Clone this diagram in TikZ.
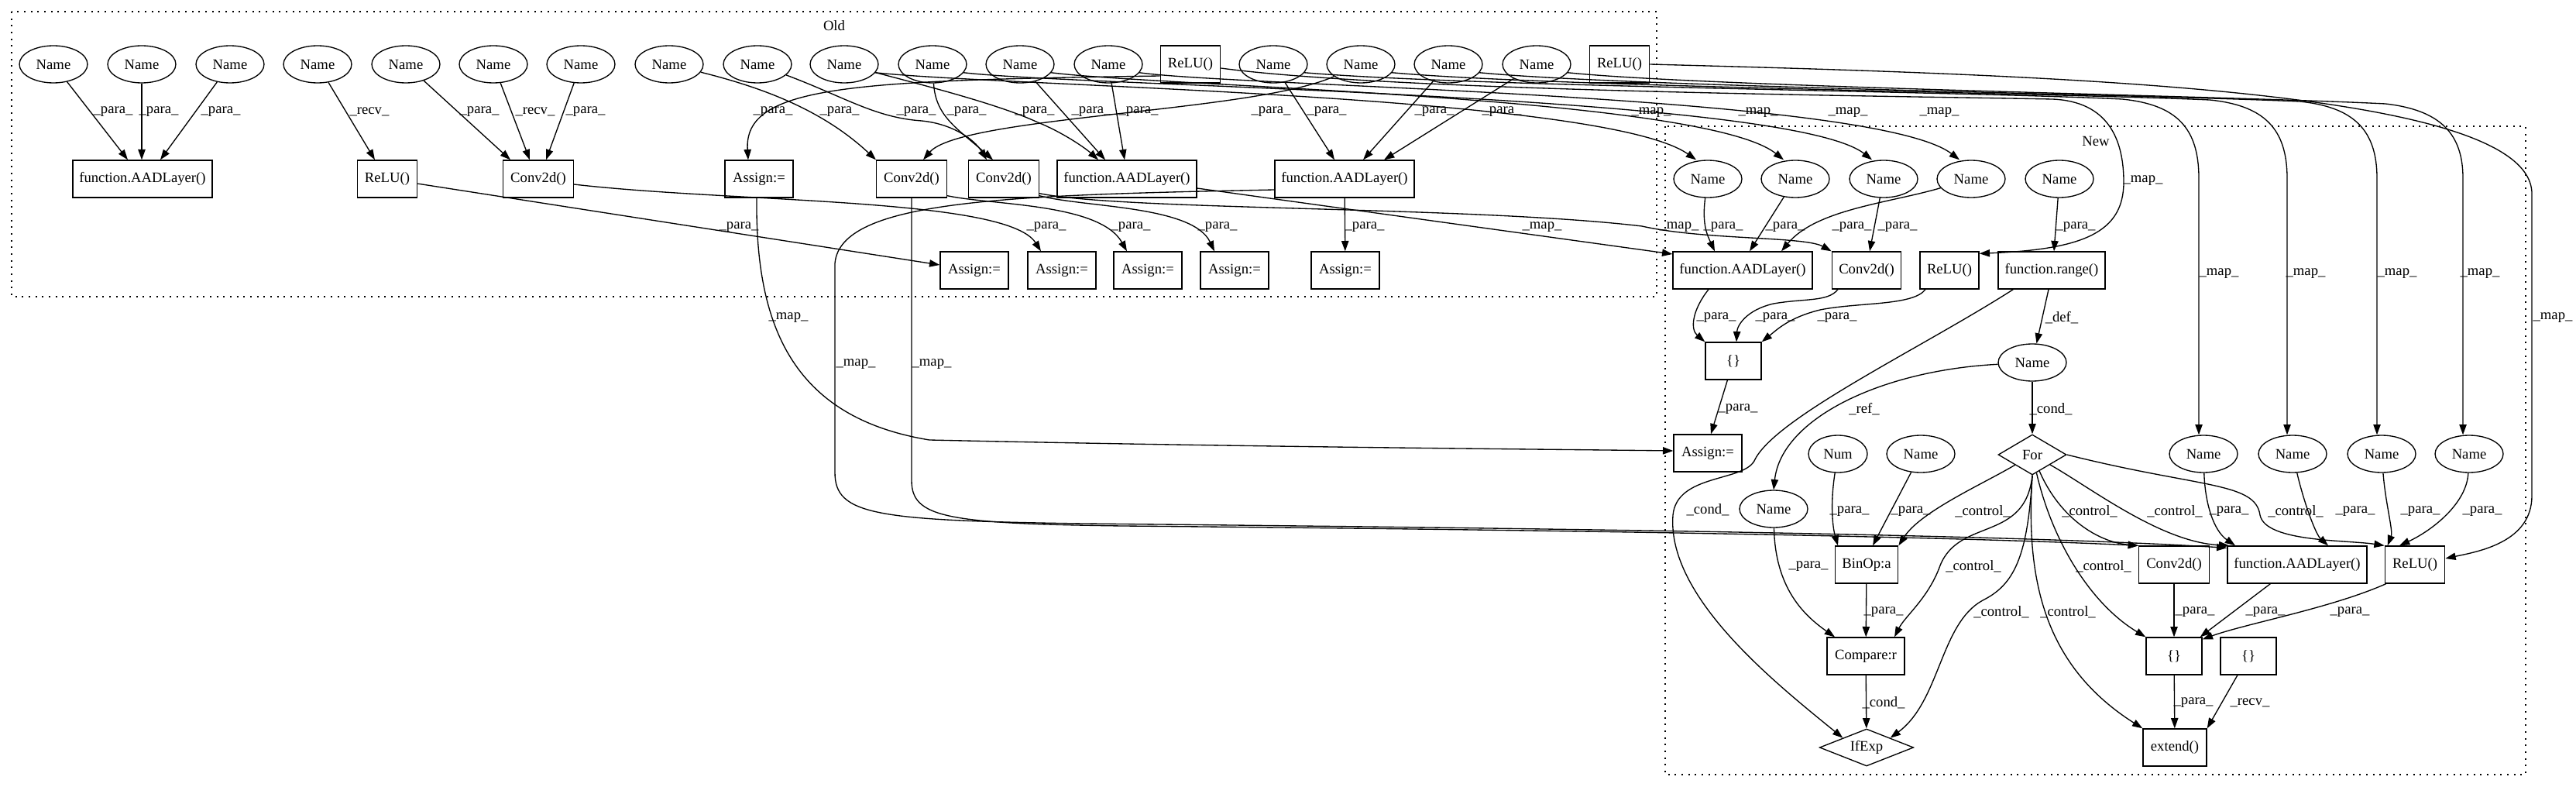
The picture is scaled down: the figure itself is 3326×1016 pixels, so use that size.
\documentclass[tikz,border=0pt]{standalone}
\usepackage{fontspec}
\setmainfont{Liberation Serif}
\usetikzlibrary{arrows.meta,shapes.geometric,calc}
\begin{document}
\begin{tikzpicture}[x=0.75pt,y=-0.75pt,
  every node/.style={font=\fontsize{14pt}{16pt}\selectfont},
  nm/.style={draw,ellipse,line width=1pt,minimum width=66pt,minimum height=36pt,inner sep=0pt},
  bx/.style={draw,rectangle,line width=1pt,minimum height=36pt,inner sep=0pt},
  dm/.style={draw,diamond,line width=1pt,inner sep=0pt},
  e/.style={draw,line width=1pt,-{Triangle[length=10pt,width=7pt]}},
  lab/.style={inner sep=0pt},
  cl/.style={draw,line width=1pt,dash pattern=on 1.5pt off 5pt}
]
\useasboundingbox (0,0) rectangle (3326,1016);
% clusters
\draw[cl] (15,15) rectangle (2139,383);
\node (OldLbl) at (1077,33) {Old};
\draw[cl] (2150,163) rectangle (3261,1000);
\node (NewLbl) at (2706,182) {New};
% ---------- Old nodes
\node[nm] (N1) at (69,83) {Name};
\node[nm] (N2) at (183,83) {Name};
\node[nm] (N3) at (297,83) {Name};
\node[nm] (N4) at (410,83) {Name};
\node[nm] (N5) at (524,83) {Name};
\node[nm] (N6) at (637,83) {Name};
\node[nm] (N7) at (750,83) {Name};
\node[nm] (N8) at (864,83) {Name};
\node[nm] (N9) at (978,83) {Name};
\node[nm] (N10) at (1090,83) {Name};
\node[nm] (N11) at (1204,83) {Name};
\node[nm] (N12) at (1317,83) {Name};
\node[nm] (N13) at (1431,83) {Name};
\node[bx,minimum width=58pt] (ReLUa) at (1537,83) {ReLU()};
\node[nm] (N14) at (1644,83) {Name};
\node[nm] (N15) at (1757,83) {Name};
\node[nm] (N16) at (1870,83) {Name};
\node[nm] (N17) at (1984,83) {Name};
\node[bx,minimum width=58pt] (ReLUb) at (2091,83) {ReLU()};
\node[bx,minimum width=135pt] (AADo1) at (184,231) {function.AADLayer()};
\node[bx,minimum width=58pt] (ReLUo1) at (500,231) {ReLU()};
\node[bx,minimum width=68pt] (Convo1) at (695,231) {Conv2d()};
\node[bx,minimum width=66pt] (Assigno1) at (980,231) {Assign:=};
\node[bx,minimum width=68pt] (Convo2) at (1177,231) {Conv2d()};
\node[bx,minimum width=68pt] (Convo3) at (1296,231) {Conv2d()};
\node[bx,minimum width=135pt] (AADo2) at (1455,231) {function.AADLayer()};
\node[bx,minimum width=135pt] (AADo3) at (1736,231) {function.AADLayer()};
\node[bx,minimum width=66pt] (Assigno2) at (1258,349) {Assign:=};
\node[bx,minimum width=66pt] (Assigno3) at (1371,349) {Assign:=};
\node[bx,minimum width=66pt] (Assigno4) at (1482,349) {Assign:=};
\node[bx,minimum width=66pt] (Assigno5) at (1594,349) {Assign:=};
\node[bx,minimum width=66pt] (Assigno6) at (1737,349) {Assign:=};
% ---------- New nodes
\node[nm] (NN1) at (2205,231) {Name};
\node[nm] (NN2) at (2318,231) {Name};
\node[nm] (NN3) at (2432,231) {Name};
\node[nm] (NN4) at (2545,231) {Name};
\node[nm] (NN5) at (2659,231) {Name};
\node[bx,minimum width=135pt] (AADn1) at (2250,349) {function.AADLayer()};
\node[bx,minimum width=67pt] (Convn1) at (2410,349) {Conv2d()};
\node[bx,minimum width=57pt] (ReLUn1) at (2517,349) {ReLU()};
\node[bx,minimum width=103.5pt] (Range) at (2649,349) {function.range()};
\node[bx,minimum width=54pt] (NBr1) at (2238,466) {\{\}};
\node[nm] (NameI) at (2624,468) {Name};
\node[bx,minimum width=66pt] (Assignn) at (2205,585) {Assign:=};
\node[nm,minimum width=57pt] (Num) at (2373,586) {Num};
\node[nm] (NameB) at (2480,586) {Name};
\node[dm,shape aspect=1.7,minimum width=66pt,minimum height=39pt] (For) at (2624,587) {For};
\node[nm] (NR1) at (2845,586) {Name};
\node[nm] (NR2) at (2960,586) {Name};
\node[nm] (NR3) at (3075,586) {Name};
\node[nm] (NR4) at (3188,586) {Name};
\node[nm] (NameRef) at (2290,657) {Name};
\node[bx,minimum width=61pt] (BinOp) at (2410,729) {BinOp:a};
\node[bx,minimum width=68pt] (Convn2) at (2807,729) {Conv2d()};
\node[bx,minimum width=135pt] (AADn2) at (2966,729) {function.AADLayer()};
\node[bx,minimum width=58pt] (ReLUn2) at (3118,729) {ReLU()};
\node[bx,minimum width=75pt] (Compare) at (2409,847) {Compare:r};
\node[bx,minimum width=54pt] (NBr2) at (2807,847) {\{\}};
\node[bx,minimum width=54pt] (NBr3) at (2903,847) {\{\}};
\node[dm,shape aspect=2.5,minimum width=91pt,minimum height=36pt] (IfExp) at (2410,965) {IfExp};
\node[bx,minimum width=61.5pt] (Extend) at (2808,965) {extend()};
% ---------- Old edges, top row
\draw[e] (N1) -- ($(AADo1.north)+(-19,0)$) node[lab] at (146,144) {\_para\_};
\draw[e] (N2) -- (N2 |- AADo1.north) node[lab] at (205,144) {\_para\_};
\draw[e] (N3) -- ($(AADo1.north)+(23,0)$) node[lab] at (285,144) {\_para\_};
\draw[e] (N4) -- ($(ReLUo1.north)+(-16,0)$) node[lab] at (477,144) {\_recv\_};
\draw[e] (N5) -- ($(Convo1.north)+(-36,0)$) node[lab] at (619,144) {\_para\_};
\draw[e] (N6) -- ($(Convo1.north)+(-11,0)$) node[lab] at (691,144) {\_recv\_};
\draw[e] (N7) -- ($(Convo1.north)+(10,0)$) node[lab] at (756,144) {\_para\_};
\draw[e] ($(ReLUa.west)+(0,15)$) .. controls (1100,104) and (960,110) .. ($(Assigno1.north)+(-14,0)$) node[lab] at (998,144) {\_para\_};
\draw[e] (N8) .. controls (980,112) and (1060,140) .. (Convo2.north west) node[lab] at (1084,144) {\_para\_};
\draw[e] (N9) .. controls (1090,125) and (1130,152) .. (1190,156) .. controls (1230,160) and (1258,180) .. ($(Convo3.north)+(-22,0)$) node[lab] at (1183,144) {\_para\_};
\draw[e] (N11) .. controls (1208,150) and (1235,165) .. ($(Convo3.north)+(-14,0)$) node[lab] at (1248,144) {\_para\_};
\draw[e] (N10) .. controls (1200,112) and (1290,135) .. (1340,158) .. controls (1370,170) and (1400,190) .. ($(AADo2.north)+(-37,0)$) node[lab] at (1336,144) {\_para\_};
\draw[e] (N12) -- ($(AADo2.north)+(-28,0)$) node[lab] at (1409,144) {\_para\_};
\draw[e] (N13) -- ($(AADo2.north)+(-3,0)$) node[lab] at (1470,144) {\_para\_};
\draw[e] (N15) .. controls (1620,145) and (1240,150) .. ($(Convo2.north)+(15,0)$) node[lab] at (1641,144) {\_para\_};
\draw[e] (N14) -- ($(AADo3.north)+(-13,0)$) node[lab] at (1713,144) {\_para\_};
\draw[e] (N16) -- ($(AADo3.north)+(24,0)$) node[lab] at (1852,144) {\_para\_};
\draw[e] (N17) -- ($(AADo3.north)+(51,0)$) node[lab] at (1939,144) {\_para\_};
% ---------- Old edges, second row
\draw[e] (ReLUo1) -- ($(Assigno2.west)+(0,-7)$) node[lab] at (954,293) {\_para\_};
\draw[e] ($(Convo1.east)+(0,7)$) .. controls (950,262) and (1300,255) .. ($(Assigno3.north)+(-27,0)$) node[lab] at (1351,293) {\_para\_};
\draw[e] ($(Convo2.south east)+(0,-3)$) .. controls (1280,265) and (1420,262) .. ($(Assigno4.north)+(-27,0)$) node[lab] at (1460,293) {\_para\_};
\draw[e] ($(Convo3.south east)+(0,-3)$) .. controls (1400,268) and (1540,265) .. ($(Assigno5.north)+(-26,0)$) node[lab] at (1572,293) {\_para\_};
\draw[e] (AADo3) -- (Assigno6) node[lab] at (1762,293) {\_para\_};
% ---------- map edges Old -> New
\draw[e] ($(AADo2.east)+(0,12)$) -- ($(AADn1.west)+(0,-21)$) node[lab] at (1991,293) {\_map\_};
\draw[e] ($(Convo3.south east)+(0,-6)$) .. controls (1450,272) and (1900,266) .. (2120,292) .. controls (2200,310) and (2330,305) .. (Convn1.north west) node[lab] at (2168,293) {\_map\_};
\draw[e] ($(Assigno1.south)+(-3,0)$) .. controls (975,430) and (1030,540) .. (1200,568) .. controls (1600,577) and (2000,580) .. ($(Assignn.west)+(0,-3)$) node[lab] at (1018,410) {\_map\_};
\draw[e] ($(AADo3.west)+(0,14)$) .. controls (1300,252) and (1085,258) .. (1078,340) -- (1078,610) .. controls (1078,665) and (1130,672) .. (1400,676) .. controls (2000,682) and (2600,690) .. ($(AADn2.north west)+(0,3)$) node[lab] at (1105,470) {\_map\_};
\draw[e] (Convo2.south) -- (1177,620) .. controls (1177,668) and (1220,676) .. (1450,679) .. controls (2000,684) and (2500,692) .. (Convn2.north west) node[lab] at (1203,470) {\_map\_};
% bundle
\draw[e] (N10.-15) .. controls (1300,112) and (2070,122) .. ($(NN1.north)+(-15,0)$) node[lab] at (2132,145) {\_map\_};
\draw[e] (N12.-15) .. controls (1500,112) and (2200,124) .. ($(NN2.north)+(-15,0)$) node[lab] at (2270,145) {\_map\_};
\draw[e] (N11.-15) .. controls (1400,112) and (2310,122) .. ($(NN3.north)+(-15,0)$) node[lab] at (2386,145) {\_map\_};
\draw[e] (N13.-15) .. controls (1600,112) and (2420,122) .. ($(NN4.north)+(-15,0)$) node[lab] at (2504,145) {\_map\_};
\draw[e] ($(ReLUa.east)+(0,5)$) .. controls (1800,118) and (2450,124) .. (2650,128) .. controls (2722,131) and (2742,180) .. (2742,235) .. controls (2742,300) and (2690,322) .. ($(ReLUn1.north east)+(0,3)$) node[lab] at (2767,233) {\_map\_};
\draw[e] (N14.-15) .. controls (1900,112) and (2540,118) .. (2740,128) .. controls (2810,135) and (2839,165) .. (2839,230) -- ($(NR1.north)+(-6,0)$) node[lab] at (2865,353) {\_map\_};
\draw[e] (N15.-15) .. controls (2000,112) and (2650,120) .. (2853,129) .. controls (2923,136) and (2953,166) .. (2953,230) -- ($(NR2.north)+(-7,0)$) node[lab] at (2977,353) {\_map\_};
\draw[e] (N16.-15) .. controls (2100,112) and (2770,122) .. (2969,131) .. controls (3039,138) and (3069,168) .. (3069,230) -- ($(NR3.north)+(-6,0)$) node[lab] at (3095,353) {\_map\_};
\draw[e] (N17.-15) .. controls (2200,112) and (2880,124) .. (3080,134) .. controls (3150,142) and (3180,172) .. (3180,230) -- ($(NR4.north)+(-8,0)$) node[lab] at (3202,353) {\_map\_};
\draw[e] (ReLUb.east) .. controls (2700,98) and (3268,118) .. (3269,250) -- (3269,640) .. controls (3269,700) and (3200,712) .. ($(ReLUn2.east)+(0,-8)$) node[lab] at (3296,410) {\_map\_};
% ---------- New edges
\draw[e] (NN1) .. controls (2197,290) and (2205,305) .. ($(AADn1.north)+(-36,0)$) node[lab] at (2225,293) {\_para\_};
\draw[e] (NN2) -- ($(AADn1.north)+(9,0)$) node[lab] at (2305,293) {\_para\_};
\draw[e] (NN4) .. controls (2440,262) and (2345,270) .. ($(AADn1.north)+(50,0)$) node[lab] at (2391,293) {\_para\_};
\draw[e] (NN3) -- ($(Convn1.north)+(4,0)$) node[lab] at (2450,293) {\_para\_};
\draw[e] (NN5) -- ($(Range.north)+(3,0)$) node[lab] at (2680,293) {\_para\_};
\draw[e] ($(AADn1.south)+(-44,0)$) .. controls (2185,400) and (2182,425) .. (NBr1.north west) node[lab] at (2216,410) {\_para\_};
\draw[e] ($(Convn1.south)+(-37,0)$) .. controls (2360,390) and (2330,385) .. (2290,392) .. controls (2255,400) and (2243,420) .. ($(NBr1.north)+(4,0)$) node[lab] at (2292,410) {\_para\_};
\draw[e] ($(ReLUn1.south)+(-31,0)$) .. controls (2470,395) and (2400,390) .. (2350,400) .. controls (2310,410) and (2295,425) .. (NBr1.north east) node[lab] at (2372,410) {\_para\_};
\draw[e] ($(Range.south)+(-4,0)$) -- (NameI) node[lab] at (2662,410) {\_def\_};
\draw[e] ($(Range.south west)+(20,0)$) .. controls (2480,450) and (2290,540) .. (2265,595) .. controls (2250,622) and (2165,612) .. (2160,665) .. controls (2152,770) and (2290,880) .. (IfExp.north west) node[lab] at (2205,658) {\_cond\_};
\draw[e] (NBr1) -- ($(Assignn.north)+(4,0)$) node[lab] at (2244,528) {\_para\_};
\draw[e] (NameI) .. controls (2430,478) and (2300,540) .. (NameRef.north) node[lab] at (2407,528) {\_ref\_};
\draw[e] (NameI) -- (For) node[lab] at (2648,528) {\_cond\_};
\draw[e] (Num) .. controls (2363,650) and (2366,680) .. ($(BinOp.north)+(-37,0)$) node[lab] at (2388,660) {\_para\_};
\draw[e] (NameB) -- ($(BinOp.north)+(8,0)$) node[lab] at (2467,660) {\_para\_};
\draw[e] (For) .. controls (2560,625) and (2480,660) .. (BinOp.north east) node[lab] at (2560,660) {\_control\_};
\draw[e] (For.south) .. controls (2615,700) and (2530,668) .. (2505,730) .. controls (2490,772) and (2460,795) .. ($(Compare.north)+(37,0)$) node[lab] at (2548,731) {\_control\_};
\draw[e] (For.south) .. controls (2618,720) and (2600,755) .. (2560,775) .. controls (2505,805) and (2505,905) .. (IfExp.north east) node[lab] at (2584,790) {\_control\_};
\draw[e] (For.south) .. controls (2615,750) and (2640,860) .. (Extend.north west) node[lab] at (2670,790) {\_control\_};
\draw[e] (For) .. controls (2650,700) and (2700,780) .. (NBr2.north west) node[lab] at (2716,731) {\_control\_};
\draw[e] (For) .. controls (2660,670) and (2710,700) .. (Convn2.north west) node[lab] at (2698,660) {\_control\_};
\draw[e] (For) .. controls (2700,630) and (2790,700) .. ($(AADn2.north west)+(3,0)$) node[lab] at (2808,660) {\_control\_};
\draw[e] (For.east) .. controls (2840,630) and (2912,622) .. (2918,665) .. controls (2925,700) and (3030,697) .. (ReLUn2.north west) node[lab] at (2964,660) {\_control\_};
\draw[e] (NR1) .. controls (2847,650) and (2858,685) .. ($(AADn2.north)+(-80,0)$) node[lab] at (2878,660) {\_para\_};
\draw[e] (NR2) .. controls (2975,650) and (2990,690) .. ($(AADn2.north)+(40,0)$) node[lab] at (3041,660) {\_para\_};
\draw[e] (NR3) .. controls (3080,650) and (3090,685) .. ($(ReLUn2.north west)+(4,0)$) node[lab] at (3125,660) {\_para\_};
\draw[e] (NR4) .. controls (3185,650) and (3140,685) .. ($(ReLUn2.north)+(-20,0)$) node[lab] at (3205,660) {\_para\_};
\draw[e] (NameRef) .. controls (2292,760) and (2330,795) .. ($(Compare.north)+(-40,0)$) node[lab] at (2335,731) {\_para\_};
\draw[e] (BinOp) -- (Compare) node[lab] at (2432,790) {\_para\_};
\draw[e] (Compare) -- (IfExp) node[lab] at (2432,907) {\_cond\_};
\draw[e] (Convn2) -- (NBr2) node[lab] at (2834,790) {\_para\_};
\draw[e] ($(AADn2.south west)+(56,0)$) -- ($(NBr2.north east)+(-3,0)$) node[lab] at (2925,790) {\_para\_};
\draw[e] ($(ReLUn2.south west)+(2,0)$) .. controls (3010,785) and (2900,805) .. ($(NBr2.north east)+(0,3)$) node[lab] at (3034,790) {\_para\_};
\draw[e] (NBr2) -- (Extend) node[lab] at (2832,907) {\_para\_};
\draw[e] (NBr3) -- (Extend.north east) node[lab] at (2905,907) {\_recv\_};
\end{tikzpicture}
\end{document}
